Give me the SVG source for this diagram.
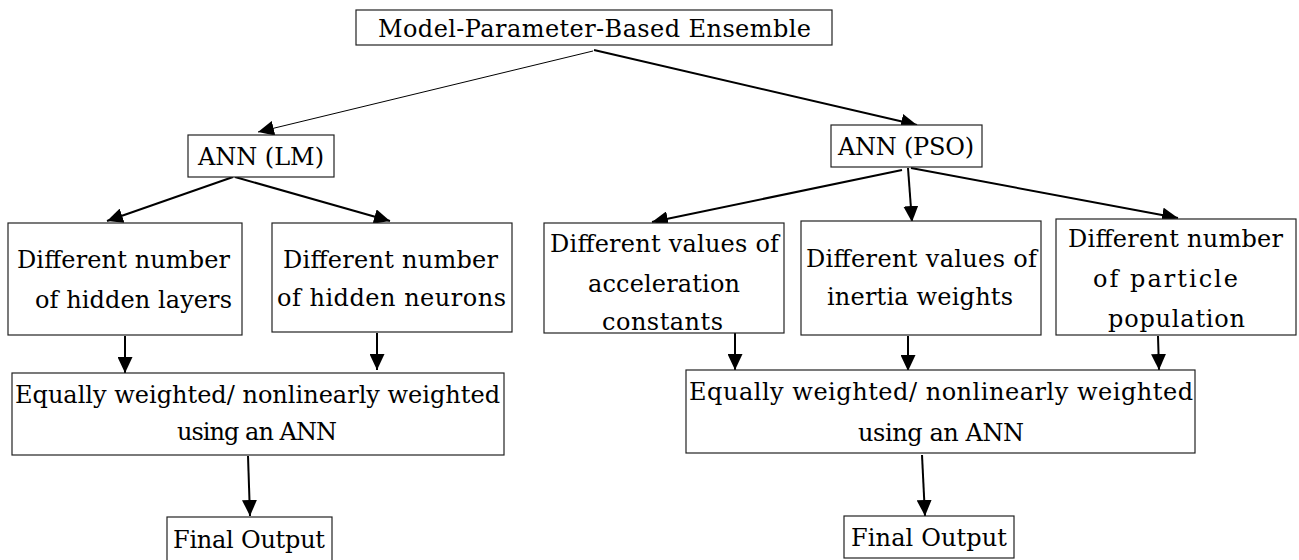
<svg xmlns="http://www.w3.org/2000/svg" width="1299" height="560" viewBox="0 0 1299 560">
<style>
.box{fill:#fff;stroke:#222;stroke-width:1.2}
.t{font-family:"DejaVu Serif","Liberation Serif",serif;font-size:24px;fill:#000}
.c{fill:none;stroke:#000;stroke-width:2}
.thin{stroke-width:1}
</style>
<defs>
<marker id="ah" markerUnits="userSpaceOnUse" markerWidth="16" markerHeight="15" refX="16" refY="7.5" orient="auto">
<path d="M0,0 L16,7.5 L0,15 z" fill="#000"/>
</marker>
</defs>
<rect width="1299" height="560" fill="#fff"/>
<g id="connectors">
<line class="c thin" x1="593" y1="51" x2="258" y2="132" marker-end="url(#ah)"/>
<line class="c" x1="594" y1="50" x2="917" y2="125" marker-end="url(#ah)"/>
<line class="c" x1="233" y1="177" x2="107" y2="221" marker-end="url(#ah)"/>
<line class="c" x1="235" y1="177" x2="390" y2="221" marker-end="url(#ah)"/>
<line class="c" x1="902" y1="170" x2="652" y2="222" marker-end="url(#ah)"/>
<line class="c" x1="908" y1="168" x2="912" y2="222" marker-end="url(#ah)"/>
<line class="c" x1="911" y1="168" x2="1178" y2="218" marker-end="url(#ah)"/>
<line class="c" x1="125" y1="336" x2="125" y2="373" marker-end="url(#ah)"/>
<line class="c" x1="377" y1="333" x2="377" y2="370" marker-end="url(#ah)"/>
<line class="c" x1="248" y1="456" x2="250" y2="516" marker-end="url(#ah)"/>
<line class="c" x1="735" y1="333" x2="735" y2="370" marker-end="url(#ah)"/>
<line class="c" x1="908" y1="336" x2="908" y2="371" marker-end="url(#ah)"/>
<line class="c" x1="1158" y1="336" x2="1159" y2="370" marker-end="url(#ah)"/>
<line class="c" x1="922" y1="455" x2="925" y2="516" marker-end="url(#ah)"/>
</g>
<g id="root">
<rect class="box" x="356" y="10" width="476" height="35"/>
<text class="t" x="378" y="37" textLength="433">Model-Parameter-Based Ensemble</text>
</g>
<g id="ann-lm">
<rect class="box" x="188" y="135" width="146" height="42"/>
<text class="t" x="198" y="165" textLength="126">ANN (LM)</text>
</g>
<g id="ann-pso">
<rect class="box" x="831" y="125" width="151" height="42"/>
<text class="t" x="838" y="155" textLength="136">ANN (PSO)</text>
</g>
<g id="hidden-layers">
<rect class="box" x="8" y="223" width="234" height="112"/>
<text class="t" x="17" y="268" textLength="213">Different number</text>
<text class="t" x="35" y="308" textLength="197">of hidden layers</text>
</g>
<g id="hidden-neurons">
<rect class="box" x="272" y="223" width="240" height="109"/>
<text class="t" x="283" y="268" textLength="215">Different number</text>
<text class="t" x="277" y="306" textLength="229">of hidden neurons</text>
</g>
<g id="acceleration">
<rect class="box" x="544" y="223" width="240" height="110"/>
<text class="t" x="550" y="252" textLength="229">Different values of</text>
<text class="t" x="588" y="292" textLength="152">acceleration</text>
<text class="t" x="602" y="330" textLength="121">constants</text>
</g>
<g id="inertia">
<rect class="box" x="801" y="221" width="240" height="114"/>
<text class="t" x="806" y="267" textLength="231">Different values of</text>
<text class="t" x="827" y="305" textLength="186">inertia weights</text>
</g>
<g id="population">
<rect class="box" x="1056" y="219" width="240" height="116"/>
<text class="t" x="1068" y="247" textLength="215">Different number</text>
<text class="t" x="1093" y="287" textLength="145">of particle</text>
<text class="t" x="1108" y="327" textLength="137">population</text>
</g>
<g id="combine-left">
<rect class="box" x="12" y="373" width="492" height="82"/>
<text class="t" x="15" y="403" textLength="485">Equally weighted/ nonlinearly weighted</text>
<text class="t" x="177" y="440" textLength="160">using an ANN</text>
</g>
<g id="combine-right">
<rect class="box" x="686" y="370" width="509" height="83"/>
<text class="t" x="689" y="400" textLength="504">Equally weighted/ nonlinearly weighted</text>
<text class="t" x="858" y="441" textLength="166">using an ANN</text>
</g>
<g id="final-left">
<rect class="box" x="167" y="517" width="165" height="48"/>
<text class="t" x="173" y="548" textLength="152">Final Output</text>
</g>
<g id="final-right">
<rect class="box" x="844" y="516" width="170" height="42"/>
<text class="t" x="851" y="546" textLength="156">Final Output</text>
</g>
</svg>
